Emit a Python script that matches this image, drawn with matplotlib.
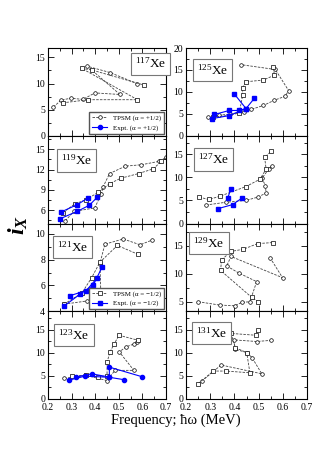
import matplotlib
matplotlib.use('Agg')
import matplotlib.pyplot as plt
from matplotlib.ticker import MultipleLocator
from matplotlib.lines import Line2D

plt.rcParams['font.family'] = 'Liberation Serif'
plt.rcParams['mathtext.fontset'] = 'custom'
plt.rcParams['mathtext.rm'] = 'Liberation Serif'
plt.rcParams['mathtext.it'] = 'Liberation Serif:italic:bold'
plt.rcParams['mathtext.bf'] = 'Liberation Serif:bold'

# --- dati: frequenza (MeV) e i_x ---
# TPSM alpha=+1/2 (cerchi), TPSM alpha=-1/2 (quadrati), Expt (blu)
xe117_p_f = [0.223, 0.255, 0.297, 0.347, 0.399, 0.505, 0.367, 0.463, 0.576]
xe117_p_i = [5.5, 6.8, 7.2, 6.95, 8.2, 7.9, 13.3, 12.1, 10.0]
xe117_m_f = [0.262, 0.371, 0.579, 0.343, 0.385, 0.607]
xe117_m_i = [6.3, 6.9, 6.9, 12.9, 12.6, 9.7]

xe125_p_f = [0.29, 0.338, 0.38, 0.441, 0.469, 0.52, 0.565, 0.61, 0.624, 0.569, 0.427]
xe125_p_i = [4.2, 4.7, 4.9, 5.5, 6.0, 6.9, 8.1, 9.0, 10.3, 15.1, 16.2]
xe125_m_f = [0.31, 0.376, 0.42, 0.434, 0.434, 0.448, 0.52, 0.565, 0.561]
xe125_m_i = [4.3, 4.6, 5.2, 9.2, 10.9, 12.3, 12.7, 13.8, 15.7]
xe125_ea_f = [0.307, 0.379, 0.448, 0.40]
xe125_ea_i = [3.9, 4.6, 6.2, 9.5]
xe125_eb_f = [0.317, 0.379, 0.42, 0.448, 0.482]
xe125_eb_i = [4.85, 5.76, 5.76, 6.2, 8.5]

xe119_p_f = [0.273, 0.31, 0.398, 0.426, 0.433, 0.461, 0.528, 0.595, 0.67, 0.701]
xe119_p_i = [4.4, 5.8, 6.3, 8.4, 9.4, 11.4, 12.5, 12.7, 13.2, 13.8]
xe119_m_f = [0.264, 0.313, 0.36, 0.412, 0.461, 0.508, 0.584, 0.646, 0.68]
xe119_m_i = [5.6, 6.9, 7.5, 8.6, 9.9, 10.7, 11.4, 12.1, 13.2]
xe119_ea_f = [0.255, 0.324, 0.371]
xe119_ea_i = [5.7, 6.8, 7.8]
xe119_eb_f = [0.251, 0.324, 0.375, 0.409]
xe119_eb_i = [4.7, 5.8, 6.7, 7.9]

xe127_p_f = [0.283, 0.365, 0.448, 0.496, 0.531, 0.528, 0.514, 0.542, 0.555]
xe127_p_i = [4.0, 4.6, 5.0, 5.7, 6.6, 8.2, 9.8, 11.8, 12.5]
xe127_m_f = [0.255, 0.294, 0.34, 0.448, 0.506, 0.531, 0.525, 0.551]
xe127_m_i = [5.7, 5.2, 5.9, 8.0, 9.6, 11.8, 14.3, 15.6]
xe127_ea_f = [0.331, 0.393, 0.431]
xe127_ea_i = [3.2, 4.1, 5.5]
xe127_eb_f = [0.372, 0.386]
xe127_eb_i = [5.5, 7.5]

xe121_p_f = [0.268, 0.367, 0.424, 0.42, 0.441, 0.519, 0.59, 0.639]
xe121_p_i = [4.55, 4.8, 5.3, 7.7, 9.2, 9.6, 9.15, 9.5]
xe121_m_f = [0.268, 0.343, 0.385, 0.42, 0.494, 0.583]
xe121_m_i = [4.55, 5.4, 6.6, 7.8, 9.1, 8.4]
xe121_ea_f = [0.268, 0.334, 0.391, 0.43]
xe121_ea_i = [4.4, 5.3, 6.0, 7.45]
xe121_eb_f = [0.292, 0.362, 0.409]
xe121_eb_i = [5.2, 5.6, 6.6]

xe129_p_f = [0.251, 0.34, 0.402, 0.43, 0.464, 0.492, 0.42, 0.368, 0.386, 0.599, 0.547]
xe129_p_i = [5.0, 4.4, 4.28, 4.88, 5.0, 8.6, 10.1, 11.4, 13.1, 9.3, 12.9]
xe129_m_f = [0.499, 0.471, 0.343, 0.347, 0.386, 0.437, 0.496, 0.561]
xe129_m_i = [5.0, 5.8, 10.6, 12.5, 14.0, 14.4, 15.4, 15.6]

xe123_p_f = [0.269, 0.357, 0.449, 0.484, 0.564, 0.502, 0.531, 0.564, 0.578]
xe123_p_i = [4.44, 5.17, 4.0, 6.2, 6.2, 10.2, 11.3, 11.9, 12.4]
xe123_m_f = [0.30, 0.36, 0.41, 0.45, 0.451, 0.463, 0.481, 0.501, 0.583]
xe123_m_i = [4.95, 5.1, 4.8, 5.0, 8.1, 10.2, 12.0, 13.8, 12.7]
xe123_ea_f = [0.29, 0.357, 0.46, 0.52]
xe123_ea_i = [4.1, 4.95, 4.7, 4.2]
xe123_eb_f = [0.319, 0.385, 0.46, 0.46, 0.60]
xe123_eb_i = [4.75, 5.45, 4.75, 6.9, 4.8]

xe131_p_f = [0.265, 0.345, 0.513, 0.473, 0.451, 0.402, 0.398, 0.492, 0.551]
xe131_p_i = [3.86, 7.36, 5.46, 8.96, 10.05, 10.8, 12.8, 12.45, 12.7]
xe131_m_f = [0.251, 0.313, 0.364, 0.464, 0.451, 0.404, 0.386, 0.489, 0.496]
xe131_m_i = [3.35, 6.05, 6.05, 5.68, 10.05, 11.1, 14.2, 13.8, 15.0]

# pannelli: (nome, colonna, riga, ylim, passo y, posizione etichetta, serie, expt, marker expt)
panels = [
    ('117', 0, 0, (0, 16.8), 5, (0.87, 0.82), [(xe117_p_f, xe117_p_i, 'o'), (xe117_m_f, xe117_m_i, 's')], [], 'o'),
    ('125', 1, 0, (0, 20), 5, (0.22, 0.75), [(xe125_p_f, xe125_p_i, 'o'), (xe125_m_f, xe125_m_i, 's')],
     [(xe125_ea_f, xe125_ea_i), (xe125_eb_f, xe125_eb_i)], 's'),
    ('119', 0, 1, (4, 17), 3, (0.24, 0.72), [(xe119_p_f, xe119_p_i, 'o'), (xe119_m_f, xe119_m_i, 's')],
     [(xe119_ea_f, xe119_ea_i), (xe119_eb_f, xe119_eb_i)], 's'),
    ('127', 1, 1, (0, 19), 5, (0.23, 0.73), [(xe127_p_f, xe127_p_i, 'o'), (xe127_m_f, xe127_m_i, 's')],
     [(xe127_ea_f, xe127_ea_i), (xe127_eb_f, xe127_eb_i)], 's'),
    ('121', 0, 2, (4, 10.8), 2, (0.21, 0.73), [(xe121_p_f, xe121_p_i, 'o'), (xe121_m_f, xe121_m_i, 's')],
     [(xe121_ea_f, xe121_ea_i), (xe121_eb_f, xe121_eb_i)], 's'),
    ('129', 1, 2, (3.3, 19), 5, (0.19, 0.78), [(xe129_p_f, xe129_p_i, 'o'), (xe129_m_f, xe129_m_i, 's')], [], 's'),
    ('123', 0, 3, (0, 19), 5, (0.22, 0.73), [(xe123_p_f, xe123_p_i, 'o'), (xe123_m_f, xe123_m_i, 's')],
     [(xe123_ea_f, xe123_ea_i), (xe123_eb_f, xe123_eb_i)], 'o'),
    ('131', 1, 3, (0, 19), 5, (0.21, 0.75), [(xe131_p_f, xe131_p_i, 'o'), (xe131_m_f, xe131_m_i, 's')], [], 'o'),
]

W, H = 317.0, 449.0
col_left = [48 / W, 186 / W]
col_width = [118 / W, 121 / W]
row_h = 87.75

fig = plt.figure(figsize=(W / 100, H / 100), dpi=100)

axes = {}
for name, col, row, ylim, ystep, lab_pos, tpsm, expt, emark in panels:
    bottom = 1 - (48 + row_h * (row + 1)) / H
    ax = fig.add_axes([col_left[col], bottom, col_width[col], row_h / H])
    axes[name] = ax
    for f, i, m in tpsm:
        ax.plot(f, i, linestyle=(0, (3, 1.5)), color='#444444', lw=0.6,
                marker=m, ms=2.6, mfc='white', mec='black', mew=0.5)
    for f, i in expt:
        ax.plot(f, i, color='#0000ff', lw=0.8, marker=emark, ms=3, mfc='#0000ff', mec='#0000ff')
    ax.set_xlim(0.2, 0.7)
    ax.set_ylim(*ylim)
    ax.xaxis.set_major_locator(MultipleLocator(0.1))
    ax.xaxis.set_minor_locator(MultipleLocator(0.05))
    ax.yaxis.set_major_locator(MultipleLocator(ystep))
    ax.yaxis.set_minor_locator(MultipleLocator(ystep / 2))
    ax.tick_params(which='both', direction='in', top=True, right=True, labelsize=7, width=0.6)
    ax.tick_params(axis='y', pad=2)
    ax.tick_params(axis='x', pad=3)
    ax.tick_params(which='major', length=4)
    ax.tick_params(which='minor', length=2)
    if row < 3:
        ax.tick_params(labelbottom=False)
    for s in ax.spines.values():
        s.set_linewidth(0.8)
    ax.text(lab_pos[0], lab_pos[1], r'$^{%s}$Xe' % name, transform=ax.transAxes, fontsize=9.5,
            ha='center', va='center',
            bbox=dict(boxstyle='square,pad=0.3', facecolor='white', edgecolor='#777777', lw=0.8))

# legende
h1 = [Line2D([], [], linestyle=(0, (3, 1.5)), color='#444444', lw=0.6, marker='o', ms=2.6,
             mfc='white', mec='black', mew=0.5),
      Line2D([], [], color='#0000ff', lw=0.8, marker='o', ms=3, mfc='#0000ff', mec='#0000ff')]
axes['117'].legend(h1, ['TPSM (α = +1/2)', 'Expt. (α = +1/2)'], loc='lower right', fontsize=5,
                   fancybox=False, edgecolor='#555555', framealpha=1, handlelength=2.2,
                   borderpad=0.4, labelspacing=0.5, borderaxespad=0.3)
h2 = [Line2D([], [], linestyle=(0, (3, 1.5)), color='#444444', lw=0.6, marker='s', ms=2.6,
             mfc='white', mec='black', mew=0.5),
      Line2D([], [], color='#0000ff', lw=0.8, marker='s', ms=3, mfc='#0000ff', mec='#0000ff')]
axes['121'].legend(h2, ['TPSM (α = −1/2)', 'Expt. (α = −1/2)'], loc='lower right', fontsize=5,
                   fancybox=False, edgecolor='#555555', framealpha=1, handlelength=2.2,
                   borderpad=0.4, labelspacing=0.5, borderaxespad=0.3)

fig.text(18 / W, 1 - 225 / H, r'$i_X$', rotation=90, fontsize=17, ha='center', va='center')
fig.text(176 / W, 1 - 420 / H, 'Frequency; ħω (MeV)', fontsize=10.5, ha='center', va='center')

fig.savefig('out.png', dpi=100)
